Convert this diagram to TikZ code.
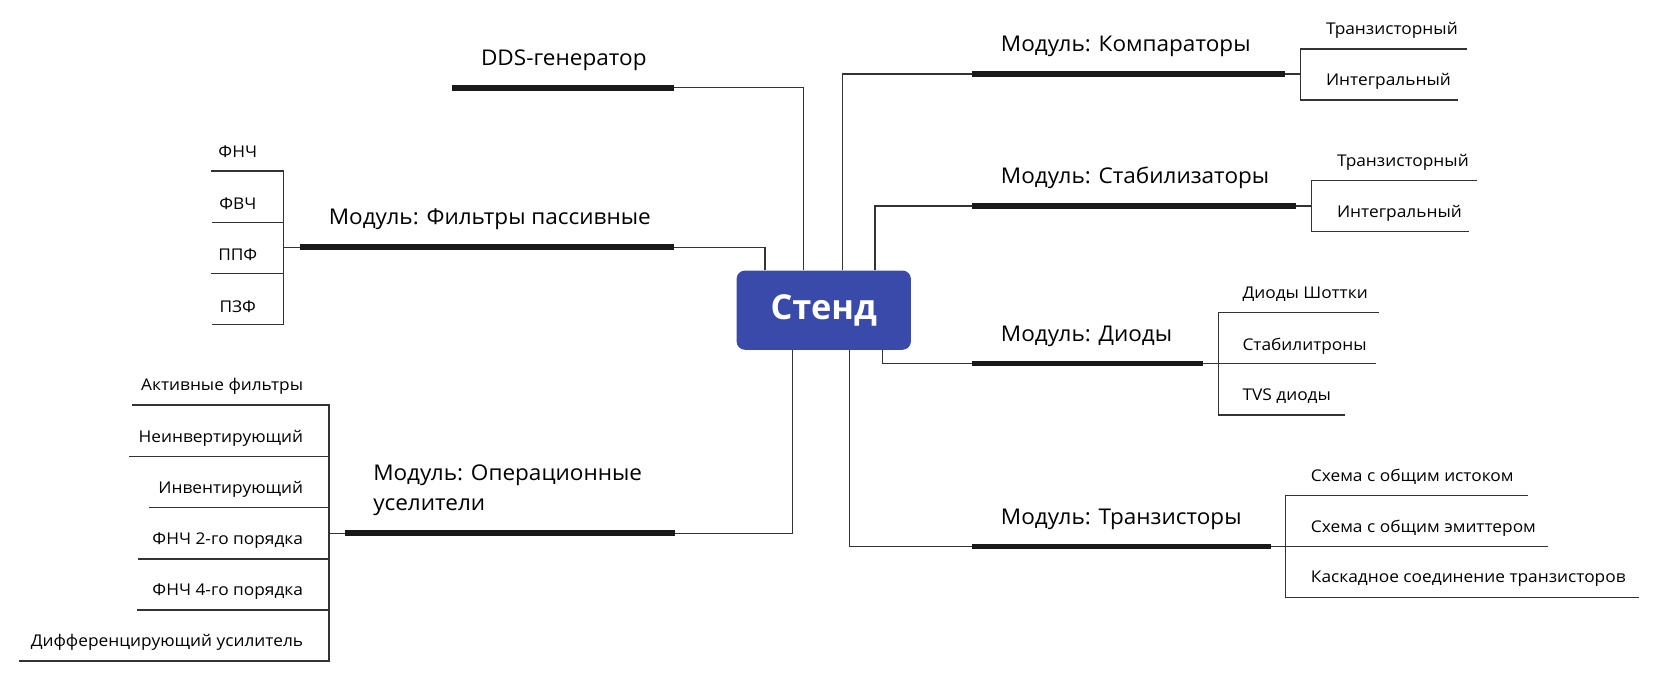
\documentclass[tikz,border=0pt]{standalone}
\usepackage{fontspec}
\setmainfont{Open Sans}
\newfontfamily\punktfont[FakeStretch=1.07]{Open Sans}
\newfontfamily\modulfont[FakeStretch=1.04]{Open Sans}
\usetikzlibrary{positioning}
\definecolor{stendblue}{RGB}{58,74,170}

\begin{document}
\begin{tikzpicture}[%
x=1pt, y=-1pt,
stend/.style={fill=stendblue,rounded corners=8pt,minimum width=165pt,minimum height=75pt,
  text=white,inner sep=0pt,font=\fontsize{32.5}{38}\selectfont\bfseries},
modul/.style={inner sep=0pt,align=left,font=\modulfont\fontsize{20.5}{28.4}\selectfont},
punkt/.style={inner sep=0pt,font=\punktfont\fontsize{15.3}{17}\selectfont},
balk/.style={line width=5.4pt,black!90},
linje/.style={line width=1.2pt,black!80},
node distance=16pt and 27pt]
\useasboundingbox (0,0) rectangle (1568,643);
\node [stend] (stend) at (779.5,293.5) {Стенд};

\coordinate (dds1) at (428,83);
\coordinate (dds2) at (638,83);
\draw [balk]  (dds1) -- (dds2);
\draw [linje] (dds2) -| ([xshift=-19.5pt]stend.north);
\node [modul,above right=of dds1] (dds) {DDS-генератор};

\coordinate (flt1) at (284,234);
\coordinate (flt2) at (638,234);
\coordinate (fltv) at (268,234);
\draw [balk]  (flt1) -- (flt2);
\draw [linje] (flt2) -| ([xshift=-55.5pt]stend.north);
\node [modul,above right=of flt1] (flt) {Модуль: Фильтры пассивные};
\draw [linje] (flt1) -- (fltv);
\coordinate (fnch) at (200,161.8);
\coordinate (fvch) at (201,210.3);
\coordinate (ppf)  at (200,258.9);
\coordinate (pzf)  at (201,307);
\draw [linje] (fltv) |- (fnch);
\draw [linje] (fltv) |- (fvch);
\draw [linje] (fltv) |- (ppf);
\draw [linje] (fltv) |- (pzf);
\node [punkt] (fnchtxt) at (225,144) {ФНЧ};
\node [punkt] (fvchtxt) at (225,193) {ФВЧ};
\node [punkt] (ppftxt)  at (225,241) {ППФ};
\node [punkt] (pzftxt)  at (225,290) {ПЗФ};

\coordinate (ou1) at (326,504.6);
\coordinate (ou2) at (639,504.6);
\coordinate (ouv) at (311.3,504.6);
\draw [balk]  (ou1) -- (ou2);
\draw [linje] (ou2) -| ([xshift=-29.5pt]stend.south);
\node [modul,above right=of ou1] (ou) {Модуль: Операционные\\уселители};
\draw [linje] (ou1) -- (ouv);
\coordinate (akt)  at (124.5,383.2);
\coordinate (ninv) at (122,432);
\coordinate (inv)  at (141,480.3);
\coordinate (fn2)  at (130.3,528.9);
\coordinate (fn4)  at (129.4,577.1);
\coordinate (dif)  at (18.3,625.4);
\draw [linje] (ouv) |- (akt);
\draw [linje] (ouv) |- (ninv);
\draw [linje] (ouv) |- (inv);
\draw [linje] (ouv) |- (fn2);
\draw [linje] (ouv) |- (fn4);
\draw [linje] (ouv) |- (dif);
\node [punkt,anchor=east] (akttxt)  at (287,366) {Активные фильтры};
\node [punkt,anchor=east] (ninvtxt) at (287,415) {Неинвертирующий};
\node [punkt,anchor=east] (invtxt)  at (287,463) {Инвентирующий};
\node [punkt,anchor=east] (fn2txt)  at (287,512) {ФНЧ 2-го порядка};
\node [punkt,anchor=east] (fn4txt)  at (287,560) {ФНЧ 4-го порядка};
\node [punkt,anchor=east] (diftxt)  at (287,608) {Дифференцирующий усилитель};

\coordinate (kmp1) at (920,70);
\coordinate (kmp2) at (1215.7,70);
\coordinate (kmpv) at (1230.8,70);
\draw [linje] ([xshift=17.5pt]stend.north) |- (kmp1);
\draw [balk]  (kmp1) -- (kmp2);
\draw [linje] (kmp2) -- (kmpv);
\node [modul,above right=of kmp1] (kmp) {Модуль: Компараторы};
\coordinate (kmpa) at (1388,46.4);
\coordinate (kmpb) at (1380,94.6);
\draw [linje] (kmpv) |- (kmpa);
\draw [linje] (kmpv) |- (kmpb);
\node [punkt,anchor=west] (kmpatxt) at (1254.6,29) {Транзисторный};
\node [punkt,anchor=west] (kmpbtxt) at (1254.6,77.3) {Интегральный};

\coordinate (stb1) at (920,195);
\coordinate (stb2) at (1226,195);
\coordinate (stbv) at (1241.3,195);
\draw [linje] ([xshift=48.5pt]stend.north) |- (stb1);
\draw [balk]  (stb1) -- (stb2);
\draw [linje] (stb2) -- (stbv);
\node [modul,above right=of stb1] (stb) {Модуль: Стабилизаторы};
\coordinate (stba) at (1398,171);
\coordinate (stbb) at (1390,219.2);
\draw [linje] (stbv) |- (stba);
\draw [linje] (stbv) |- (stbb);
\node [punkt,anchor=west] (stbatxt) at (1265,153.6) {Транзисторный};
\node [punkt,anchor=west] (stbbtxt) at (1265,201.8) {Интегральный};

\coordinate (dio1) at (920,344);
\coordinate (dio2) at (1138,344);
\coordinate (diov) at (1153,344);
\draw [linje] ([xshift=55.5pt]stend.south) |- (dio1);
\draw [balk]  (dio1) -- (dio2);
\draw [linje] (dio2) -- (diov);
\node [modul,above right=of dio1] (dio) {Модуль: Диоды};
\coordinate (dioa) at (1304.7,295.8);
\coordinate (diob) at (1301.8,344);
\coordinate (dioc) at (1272.6,392.6);
\draw [linje] (diov) |- (dioa);
\draw [linje] (diov) -- (diob);
\draw [linje] (diov) |- (dioc);
\node [punkt,anchor=west] (dioatxt) at (1175.6,278.5) {Диоды Шоттки};
\node [punkt,anchor=west] (diobtxt) at (1175.6,327.3) {Стабилитроны};
\node [punkt,anchor=west] (dioctxt) at (1175.6,375.3) {TVS диоды};

\coordinate (trz1) at (920,517.2);
\coordinate (trz2) at (1202.5,517.2);
\coordinate (trzv) at (1216.7,517.2);
\draw [linje] ([xshift=24.5pt]stend.south) |- (trz1);
\draw [balk]  (trz1) -- (trz2);
\draw [linje] (trz2) -- (trzv);
\node [modul,above right=of trz1] (trz) {Модуль: Транзисторы};
\coordinate (trza) at (1445.6,469);
\coordinate (trzb) at (1465,517.2);
\coordinate (trzc) at (1550.5,565.4);
\draw [linje] (trzv) |- (trza);
\draw [linje] (trzv) -- (trzb);
\draw [linje] (trzv) |- (trzc);
\node [punkt,anchor=west] (trzatxt) at (1240.3,451.6) {Схема с общим истоком};
\node [punkt,anchor=west] (trzbtxt) at (1240.3,499.8) {Схема с общим эмиттером};
\node [punkt,anchor=west] (trzctxt) at (1240.3,548) {Каскадное соединение транзисторов};
\end{tikzpicture}
\end{document}
